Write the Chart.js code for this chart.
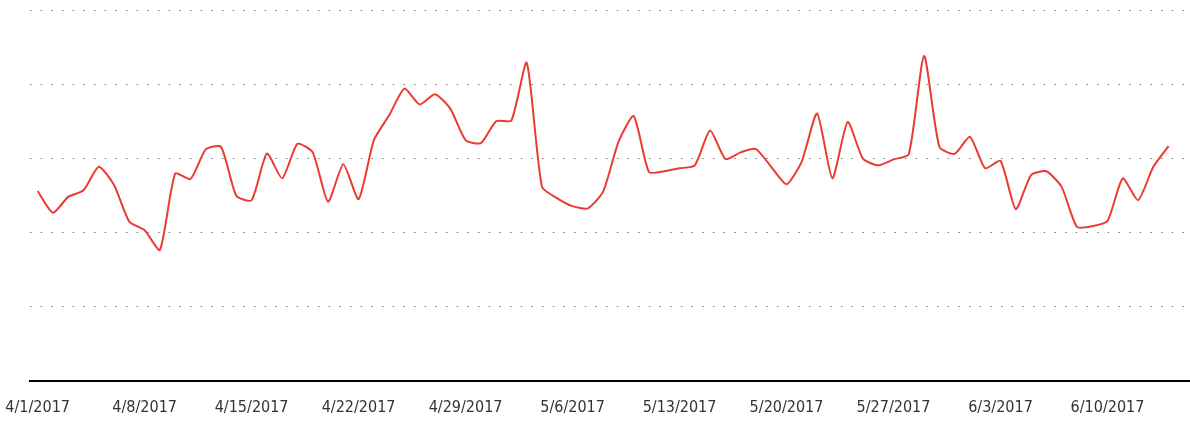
<!DOCTYPE html>
<html>
<head>
<meta charset="utf-8">
<script src="https://cdn.jsdelivr.net/npm/chart.js@4/dist/chart.umd.min.js"></script>
<style>
  html, body { margin: 0; padding: 0; background: #fff; }
  #wrap { width: 1190px; height: 424px; position: relative; }
</style>
</head>
<body>
<div id="wrap"><canvas id="grafica"></canvas></div>
<script>
// dias desde 4/1/2017 (indice 0) hasta 6/14/2017 (indice 74)
const tickDias = [0, 7, 14, 21, 28, 35, 42, 49, 56, 63, 70];
const tickEtiquetas = ['4/1/2017', '4/8/2017', '4/15/2017', '4/22/2017', '4/29/2017', '5/6/2017',
  '5/13/2017', '5/20/2017', '5/27/2017', '6/3/2017', '6/10/2017'];

const valores = [
  51.2, 45.3, 49.6, 51.4, 57.7, 52.8, 42.9, 40.6, 35.3, 55.9,
  54.4, 62.4, 63.1, 49.9, 48.7, 61.3, 54.6, 63.9, 61.6, 48.3,
  58.4, 49.0, 64.9, 71.6, 78.8, 74.5, 77.3, 73.4, 64.9, 64.1,
  70.0, 70.2, 85.8, 52.3, 49.2, 47.1, 46.5, 51.0, 64.4, 71.4,
  56.3, 56.5, 57.3, 58.1, 67.5, 59.8, 61.6, 62.5, 57.7, 53.0,
  59.2, 72.1, 54.6, 69.8, 59.9, 58.1, 59.7, 61.1, 87.6, 63.1,
  61.2, 65.8, 57.3, 59.3, 46.3, 55.5, 56.5, 52.3, 41.5, 41.7,
  43.1, 54.6, 48.7, 57.7, 63.3
];

const puntos = valores.map((v, i) => ({ x: i, y: v }));

document.addEventListener('DOMContentLoaded', function () {
  const ctx = document.getElementById('grafica');
  new Chart(ctx, {
    type: 'line',
    data: {
      datasets: [{
        label: 'Serie',
        data: puntos,
        borderColor: '#ea3b33',
        borderWidth: 2,
        pointRadius: 0,
        tension: 0.2,
        fill: false
      }]
    },
    options: {
      responsive: true,
      maintainAspectRatio: false,
      animation: false,
      layout: { padding: { left: 30, right: 0, top: 10, bottom: -10 } },
      plugins: {
        legend: { display: false },
        tooltip: { enabled: false }
      },
      scales: {
        x: {
          type: 'linear',
          min: -0.5,
          max: 75.4,
          afterBuildTicks: function (axis) {
            axis.ticks = tickDias.map(d => ({ value: d }));
          },
          afterFit: function (scale) {
            // la primera etiqueta puede salirse del area, como en el original
            scale.paddingLeft = 0;
            scale.paddingRight = 0;
          },
          ticks: {
            autoSkip: false,
            maxRotation: 0,
            padding: 17,
            color: '#333',
            font: { family: "'Liberation Sans Narrow', 'DejaVu Sans Condensed', sans-serif", size: 16 },
            callback: function (value) {
              const idx = tickDias.indexOf(value);
              return idx >= 0 ? tickEtiquetas[idx] : '';
            }
          },
          grid: { display: false, drawTicks: false },
          border: { display: true, color: '#000', width: 2 }
        },
        y: {
          min: 0,
          max: 100,
          ticks: { display: false, stepSize: 20 },
          grid: {
            drawTicks: false,
            color: function (c) { return c.tick.value === 0 ? 'rgba(0,0,0,0)' : '#777'; },
            lineWidth: 1
          },
          border: { display: false, dash: [1.5, 9.17] }
        }
      }
    }
  });
});
</script>
</body>
</html>
